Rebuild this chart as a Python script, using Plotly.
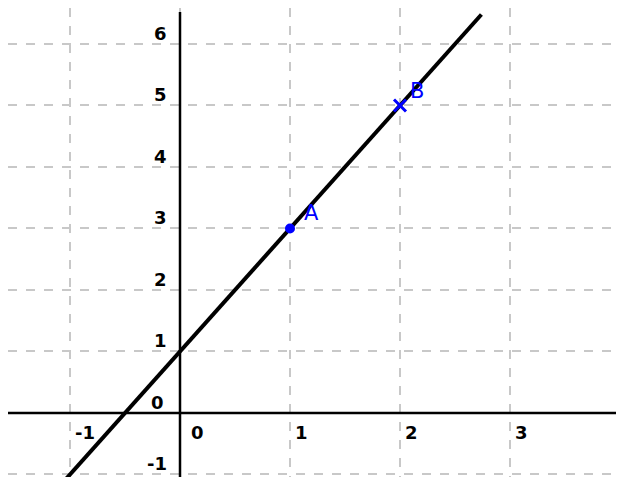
import plotly.graph_objects as go

# data
slope = 2
intercept = 1
line_x_span = [-1.2, 2.74]
x_ticks = [-1, 1, 2, 3]
y_ticks = [-1, 1, 2, 3, 4, 5, 6]
point_names = ["A", "B"]
point_x = [1, 2]
point_y = [3, 5]

# page has an 8px body margin: ranges chosen so the view matches the reference
XR = [-1.5636, 4.109]
YR = [-1.171, 6.585]

fig = go.Figure()

line_y = [slope * x + intercept for x in line_x_span]
fig.add_trace(go.Scatter(x=line_x_span, y=line_y, mode="lines",
                         line=dict(color="black", width=4), hoverinfo="skip"))

fig.add_trace(go.Scatter(x=[point_x[0]], y=[point_y[0]], mode="markers",
                         marker=dict(symbol="circle", size=10, color="#0000ff"),
                         hoverinfo="skip"))
fig.add_trace(go.Scatter(x=[point_x[1]], y=[point_y[1]], mode="markers",
                         marker=dict(symbol="x-thin", size=12, color="#0000ff",
                                     line=dict(color="#0000ff", width=3)),
                         hoverinfo="skip"))

# axis lines
fig.add_shape(type="line", x0=XR[0], x1=4.0, y0=0, y1=0,
              line=dict(color="black", width=2.5))
fig.add_shape(type="line", x0=0, x1=0, y0=YR[0], y1=6.52,
              line=dict(color="black", width=2.5))

lab_font = dict(family="DejaVu Sans, Arial", size=18, color="black")
bold = lambda s: "<b>" + s + "</b>"

for t in x_ticks:
    fig.add_annotation(x=t, y=0, text=bold(str(t)), showarrow=False,
                       xanchor="left", yanchor="top", xshift=3, yshift=-7, font=lab_font)
for t in y_ticks:
    fig.add_annotation(x=0, y=t, text=bold(str(t)), showarrow=False,
                       xanchor="right", yanchor="bottom", xshift=-11, yshift=-2, font=lab_font)

# origin labels
fig.add_annotation(x=0, y=0, text=bold("0"), showarrow=False,
                   xanchor="right", yanchor="bottom", xshift=-14, yshift=-2, font=lab_font)
fig.add_annotation(x=0, y=0, text=bold("0"), showarrow=False,
                   xanchor="left", yanchor="top", xshift=9, yshift=-7, font=lab_font)

# point labels
label_shift = [(12, 1), (8, 0)]
for nm, px, py, (dx, dy) in zip(point_names, point_x, point_y, label_shift):
    fig.add_annotation(x=px, y=py, text=nm, showarrow=False,
                       xanchor="left", yanchor="bottom", xshift=dx, yshift=dy,
                       font=dict(family="DejaVu Sans, Arial", size=21, color="#0000ff"))

grid = dict(showgrid=True, gridcolor="#c8c8c8", gridwidth=2, griddash="dash",
            dtick=1, tick0=0, zeroline=False, showticklabels=False, ticks="",
            showline=False, fixedrange=True)
fig.update_xaxes(range=XR, **grid)
fig.update_yaxes(range=YR, **grid)

fig.update_layout(width=624, height=477, margin=dict(l=0, r=0, t=0, b=0),
                  plot_bgcolor="white", paper_bgcolor="white", showlegend=False)

fig.write_html("out.html")
